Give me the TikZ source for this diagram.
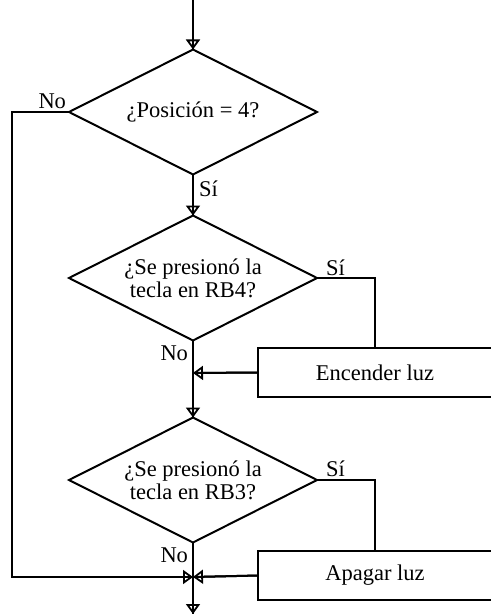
\documentclass[tikz,border=0pt]{standalone}
\usepackage{fontspec}
\setmainfont{Liberation Serif}
\usetikzlibrary{shapes.geometric,arrows.meta}
\begin{document}
\begin{tikzpicture}[x=1pt,y=-1pt,
  line width=2pt,
  every node/.style={font=\fontsize{22.5}{23}\selectfont},
  dec/.style={diamond,draw,aspect=2,inner sep=0pt,outer sep=0pt,align=center,
    minimum width=248pt,minimum height=125pt},
  procbox/.style={draw,inner sep=0pt,outer sep=0pt,minimum width=234pt,
    minimum height=49pt,anchor=north west},
  lbl/.style={inner sep=0pt},
  arr/.style={-{Triangle[open,length=10pt,width=14pt,line width=1.8pt]},
    postaction={draw,-}}]
\useasboundingbox (0,0) rectangle (490,615);

\node[dec] (d1) at (193,112) {¿Posición = 4?};
\node[dec] (d2) at (193,278) {¿Se presionó la\\tecla en RB4?};
\node[dec] (d3) at (193,480) {¿Se presionó la\\tecla en RB3?};
\node[procbox] (e1) at (258,348) {Encender luz};
\node[procbox] (a1) at (258,551) {Apagar luz};

\coordinate (top) at (193,0);
\coordinate (bot) at (193,614);
\coordinate (c1) at (12,112);
\coordinate (c2) at (12,577);
\coordinate (j2) at (193,577);
\coordinate (j1) at (193,373);

\draw[arr] (top) -- (d1.north);
\draw[arr] (d1.south) -- (d2.north);
\draw[arr] (d2.south) -- (d3.north);
\draw[arr] (d3.south) -- (bot);
\draw[arr] (d1.west) -- (c1) -- (c2) -- (j2);
\draw (d2.east) -| (e1.north);
\draw (d3.east) -| (a1.north);
\draw[arr] (e1.west) -- (j1);
\draw[arr] (a1.west) -- (j2);

\node[lbl,anchor=base east] (n1) at (67,109) {No};
\node[lbl,anchor=west] (s1) at (198,189) {Sí};
\node[lbl,anchor=base west] (s2) at (325,275) {Sí};
\node[lbl,anchor=base east] (n2) at (189,360) {No};
\node[lbl,anchor=base west] (s3) at (325,476) {Sí};
\node[lbl,anchor=base east] (n3) at (189,562) {No};
\end{tikzpicture}
\end{document}
